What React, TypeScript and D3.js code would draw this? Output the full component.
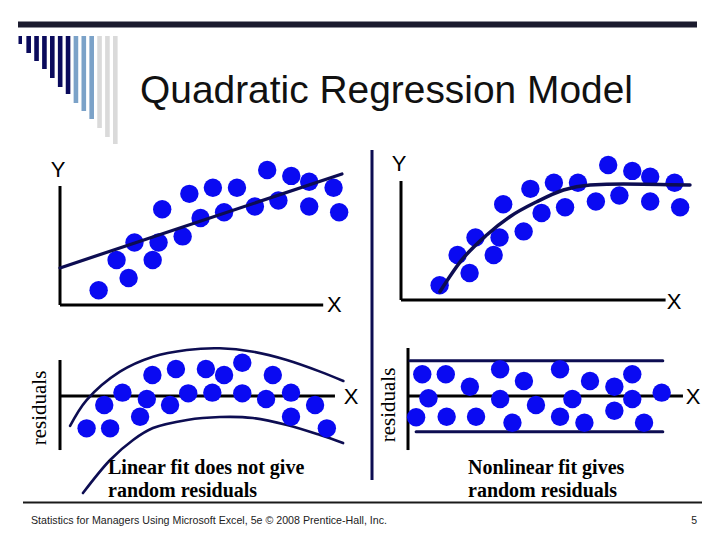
import React from "react";
import * as d3 from "d3";

const W = 720;
const H = 540;

// Decorative bar heights at top-left (lengths of the 13 hanging bars)
const deco = [8, 17, 25, 33, 42, 51, 58, 67, 75, 83, 92, 101, 108];
const decoColors = ["#0a0a5c", "#0a0a5c", "#0a0a5c", "#0a0a5c", "#0a0a5c", "#0a0a5c", "#0a0a5c", "#7ba2c8", "#7ba2c8", "#7ba2c8", "#dadada", "#dadada", "#dadada"];

// Scatter sample (same in both upper panels)
const scatterX = [13.8, 24.5, 20.2, 26.6, 33.1, 35.2, 43.8, 36.5, 46.2, 50.2, 54.6, 58.6, 63.2, 69.6, 74, 78, 82.6, 89, 89, 97.7, 99.7];
const scatterY = [10.5, 19.3, 32.1, 44.6, 32.1, 44.6, 49, 68.4, 79.4, 62.1, 83.7, 66.2, 83.7, 70.4, 96.4, 74.6, 92.2, 88, 70.4, 83.7, 66.2];
const linearFitX = [0, 100.7];
const linearFitY = [26.5, 93.6];
const quadFitX = [13.9, 21.7, 30.6, 38.9, 48.5, 58, 67.5, 79.4, 103.2];
const quadFitY = [5.9, 28.6, 46.4, 59.5, 70.2, 78.6, 82.1, 82.9, 82.1];

// Residuals of the linear fit
const linResX = [9.5, 17.9, 15.8, 22.3, 28.6, 31, 33, 39.3, 41.4, 45.8, 52.1, 54.4, 58.6, 65.1, 65.1, 73.6, 76, 82.5, 82.5, 91.1, 95.3];
const linResY = [-23.1, -23.1, -6.4, 2.4, -14.8, -2.1, 15, -6.4, 19.3, 1.9, 19.3, 2.4, 15, 23.8, 1.9, -2.1, 15, 2.4, -14.8, -6.4, -23.1];
const linUpperX = [3.6, 9.5, 21.4, 33.2, 45.3, 57.1, 69, 81, 92.9, 101.2];
const linUpperY = [-21.4, -2.9, 17.4, 28.1, 32.9, 34.1, 31.6, 25.7, 17.4, 10.7];
const linLowerX = [8.2, 17.9, 26.1, 33.2, 45.4, 57.1, 68.9, 81.1, 92.9, 101.1];
const linLowerY = [-69.3, -45.7, -31.4, -22.9, -17.1, -15, -15.7, -20.7, -27.9, -33.6];

// Residuals of the quadratic fit
const quadResX = [5.1, 13.5, 7.3, 2.9, 13.8, 22.1, 24.3, 32.9, 32.9, 37.3, 41.4, 45.7, 54.3, 54.3, 58.7, 63, 65, 73.7, 73.7, 80.1, 80.1, 84.3, 90.6];
const quadResY = [15.5, 15.5, -1.6, -15.2, -14.8, 6.6, -14.8, 19.1, -2.1, -19.1, 10.7, -6.4, 19.1, -14.8, -2.1, -19.1, 10.7, 6.6, -10.5, 15.5, -2.1, -19.1, 2.4];
const bandUpperX = [0.7, 91];
const bandUpperY = [25.2, 25.2];
const bandLowerX = [2.9, 91];
const bandLowerY = [-25.5, -25.5];

const NAVY = "#0d0d52";
const DOT = "#0a0af2";
const R = 9.2;

type Pt = [number, number];
const zip = (xs: number[], ys: number[]): Pt[] => xs.map((x, i) => [x, ys[i]]);

function Panel({ x, y, points, curves, pointsOnTop }: any) {
  const line = d3.line<Pt>().x((d) => x(d[0])).y((d) => y(d[1]));
  const curveEls = curves.map((c: any, i: number) => (
    <path
      key={"c" + i}
      d={line.curve(c.smooth ? d3.curveMonotoneX : d3.curveLinear)(c.data) || ""}
      fill="none"
      stroke={NAVY}
      strokeWidth={c.w}
      strokeLinecap="round"
    />
  ));
  const dots = points.map((d: Pt, i: number) => (
    <circle key={"p" + i} cx={x(d[0])} cy={y(d[1])} r={R} fill={DOT} />
  ));
  return (
    <g>
      {pointsOnTop ? curveEls : dots}
      {pointsOnTop ? dots : curveEls}
    </g>
  );
}

function curveCardinal(x: any, y: any, data: Pt[], w: number) {
  const line = d3.line<Pt>().x((d) => x(d[0])).y((d) => y(d[1])).curve(d3.curveCatmullRom.alpha(0.5));
  return <path d={line(data) || ""} fill="none" stroke={NAVY} strokeWidth={w} strokeLinecap="round" />;
}

export default function App() {
  const tlx = d3.scaleLinear().domain([0, 100]).range([60, 340]);
  const tly = d3.scaleLinear().domain([0, 100]).range([305, 165]);
  const trx = d3.scaleLinear().domain([0, 100]).range([401, 681]);
  const try_ = d3.scaleLinear().domain([0, 100]).range([300, 160]);
  const blx = d3.scaleLinear().domain([0, 100]).range([60, 340]);
  const brx = d3.scaleLinear().domain([0, 100]).range([408, 688]);
  const ry = d3.scaleLinear().domain([-40, 40]).range([452, 340]);

  const decoX = d3.scaleLinear().domain([0, 12]).range([18.5, 113]);

  const sans = "'Liberation Sans', Arial, sans-serif";
  const serif = "'Liberation Serif', 'Times New Roman', serif";

  const scatter = zip(scatterX, scatterY);

  return (
    <svg width={W} height={H} style={{ position: "absolute", left: 0, top: 0, background: "#fff" }} xmlns="http://www.w3.org/2000/svg">
      <rect x={0} y={0} width={W} height={H} fill="#fff" />
      {/* header */}
      <rect x={18} y={21.5} width={679} height={6} fill="#1b1b2e" />
      {deco.map((h, i) => (
        <rect key={i} x={decoX(i)} y={36} width={i === 0 ? 3.5 : 4.6} height={h} fill={decoColors[i]} />
      ))}
      <text x={140} y={103} fontFamily={sans} fontSize={39} fill="#111" textLength={493} lengthAdjust="spacingAndGlyphs">
        Quadratic Regression Model
      </text>

      {/* divider */}
      <line x1={372} y1={150} x2={372} y2={480} stroke={NAVY} strokeWidth={3} />

      {/* top-left: linear fit */}
      <g>
        <line x1={tlx(0)} y1={tly(85)} x2={tlx(0)} y2={tly(0)} stroke="#000" strokeWidth={3} />
        <line x1={tlx(0)} y1={tly(0)} x2={tlx(94)} y2={tly(0)} stroke="#000" strokeWidth={3} />
        <text x={tlx(0) - 2} y={177} textAnchor="middle" fontFamily={sans} fontSize={22}>Y</text>
        <text x={tlx(98)} y={312} textAnchor="middle" fontFamily={sans} fontSize={22}>X</text>
        <Panel x={tlx} y={tly} points={scatter} curves={[{ data: zip(linearFitX, linearFitY), w: 3.2 }]} />
      </g>

      {/* top-right: quadratic fit */}
      <g>
        <line x1={trx(0)} y1={try_(85)} x2={trx(0)} y2={try_(0)} stroke="#000" strokeWidth={3} />
        <line x1={trx(0)} y1={try_(0)} x2={trx(94.5)} y2={try_(0)} stroke="#000" strokeWidth={3} />
        <text x={trx(0) - 2} y={171} textAnchor="middle" fontFamily={sans} fontSize={22}>Y</text>
        <text x={trx(97.5)} y={309} textAnchor="middle" fontFamily={sans} fontSize={22}>X</text>
        <Panel x={trx} y={try_} points={scatter} curves={[{ data: zip(quadFitX, quadFitY), w: 3.5, smooth: true }]} />
      </g>

      {/* bottom-left: residuals of linear fit */}
      <g>
        <line x1={blx(0)} y1={ry(25.7)} x2={blx(0)} y2={ry(-38.6)} stroke="#000" strokeWidth={3} />
        <line x1={blx(0)} y1={ry(0)} x2={blx(98.2)} y2={ry(0)} stroke="#000" strokeWidth={3} />
        <text x={351} y={404} textAnchor="middle" fontFamily={sans} fontSize={22}>X</text>
        <text transform="translate(46,408) rotate(-90)" textAnchor="middle" fontFamily={serif} fontSize={21}>residuals</text>
        {curveCardinal(blx, ry, zip(linUpperX, linUpperY), 2.6)}
        {curveCardinal(blx, ry, zip(linLowerX, linLowerY), 2.6)}
        <Panel x={blx} y={ry} points={zip(linResX, linResY)} curves={[]} />
      </g>

      {/* bottom-right: residuals of quadratic fit */}
      <g>
        <line x1={brx(0)} y1={ry(34.3)} x2={brx(0)} y2={ry(-38.6)} stroke="#000" strokeWidth={3} />
        <line x1={brx(0)} y1={ry(0)} x2={brx(98.2)} y2={ry(0)} stroke="#000" strokeWidth={3} />
        <text x={693} y={404} textAnchor="middle" fontFamily={sans} fontSize={22}>X</text>
        <text transform="translate(395,405) rotate(-90)" textAnchor="middle" fontFamily={serif} fontSize={21}>residuals</text>
        <Panel
          x={brx}
          y={ry}
          points={zip(quadResX, quadResY)}
          curves={[
            { data: zip(bandUpperX, bandUpperY), w: 3 },
            { data: zip(bandLowerX, bandLowerY), w: 3 },
          ]}
          pointsOnTop
        />
      </g>

      {/* captions */}
      <g fontFamily={serif} fontWeight="bold" fontSize={20} fill="#000">
        <text x={108} y={474}>Linear fit does not give</text>
        <text x={108} y={497}>random residuals</text>
        <text x={468} y={474}>Nonlinear fit gives</text>
        <text x={468} y={497}>random residuals</text>
      </g>

      {/* footer */}
      <line x1={23} y1={502.5} x2={702} y2={502.5} stroke="#1a1a1a" strokeWidth={2} />
      <text x={31} y={524} fontFamily={sans} fontSize={10.5} fill="#222" textLength={356} lengthAdjust="spacingAndGlyphs">
        Statistics for Managers Using Microsoft Excel, 5e © 2008 Prentice-Hall, Inc.
      </text>
      <text x={697} y={524} textAnchor="end" fontFamily={sans} fontSize={10.5} fill="#222">5</text>
    </svg>
  );
}
